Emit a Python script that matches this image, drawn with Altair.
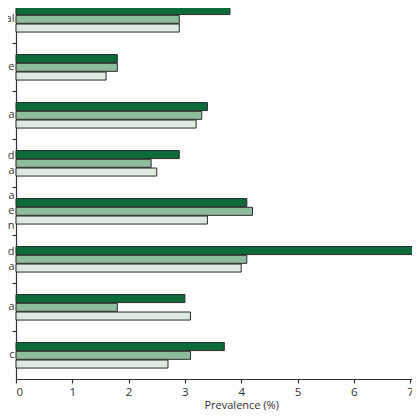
import altair as alt
import pandas as pd
import json

# Visible (cropped) category label fragments, "|" = line break
group_labels = ["al", "e", "a", "d|a", "a|e|n", "d|a", "a", "c"]
series = ["Series 1", "Series 2", "Series 3"]
vals1 = [3.8, 1.8, 3.4, 2.9, 4.1, 7.5, 3.0, 3.7]
vals2 = [2.9, 1.8, 3.3, 2.4, 4.2, 4.1, 1.8, 3.1]
vals3 = [2.9, 1.6, 3.2, 2.5, 3.4, 4.0, 3.1, 2.7]
colors = ["#0d6b3b", "#8fbc9f", "#dceadf"]
x_ticks = [0, 1, 2, 3, 4, 5, 6, 7]

rows = []
for i in range(len(group_labels)):
    for s, vals in zip(series, [vals1, vals2, vals3]):
        rows.append({"g": i, "series": s, "value": vals[i]})
df = pd.DataFrame(rows)

label_js = json.dumps([l.split("|") for l in group_labels]).replace('"', "'")
LH = 15
two_line = [i for i, l in enumerate(group_labels) if l.count("|") == 1]
three_line = [i for i, l in enumerate(group_labels) if l.count("|") == 2]


def test_for(idx):
    return " || ".join("datum.value == %d" % i for i in idx) if idx else "false"


label_offset = {
    "condition": [
        {"test": test_for(three_line), "value": -LH},
        {"test": test_for(two_line), "value": -LH / 2},
    ],
    "value": 0,
}

FONT = "Open Sans"
TXT = "#333333"
Y0, Y1 = -12.7, 371.3
STEP = (Y1 - Y0) / 8
BARS = 25.5

chart = alt.Chart(df).mark_bar(stroke="#2a2a2a", strokeWidth=1).encode(
    y=alt.Y(
        "g:O",
        scale=alt.Scale(range=[Y0, Y1], paddingInner=0, paddingOuter=0),
        axis=alt.Axis(
            title=None,
            bandPosition=0,
            labelExpr=label_js + "[datum.value]",
            labelLineHeight=LH,
            labelOffset=label_offset,
            labelBaseline="middle",
            tickSize=4,
            labelPadding=-2,
            labelFontSize=11,
        ),
    ),
    yOffset=alt.YOffset(
        "series:N",
        sort=series,
        scale=alt.Scale(
            range=[STEP / 2 - BARS / 2, STEP / 2 + BARS / 2], paddingInner=0.08, paddingOuter=0
        ),
    ),
    x=alt.X(
        "value:Q",
        scale=alt.Scale(domain=[0, 8], range=[0, 450.4], nice=False),
        axis=alt.Axis(
            title="Prevalence (%)",
            values=x_ticks,
            format="d",
            tickSize=4,
            labelPadding=3,
            labelFontSize=11.5,
            titleFontSize=11,
            titleFontWeight="normal",
            titlePadding=2,
            grid=False,
        ),
    ),
    color=alt.Color("series:N", scale=alt.Scale(domain=series, range=colors), legend=None),
).properties(
    width=396,
    height=371,
    autosize=alt.AutoSizeParams(type="none"),
    padding={"left": 8, "top": 0, "right": 0, "bottom": 33},
).configure_view(
    stroke=None
).configure_axis(
    domainColor=TXT,
    tickColor=TXT,
    labelColor=TXT,
    titleColor=TXT,
    labelFont=FONT,
    titleFont=FONT,
    grid=False,
    domainWidth=1.2,
    tickWidth=1.2,
)

chart.save("out.html", embed_options={"renderer": "svg", "actions": False})
